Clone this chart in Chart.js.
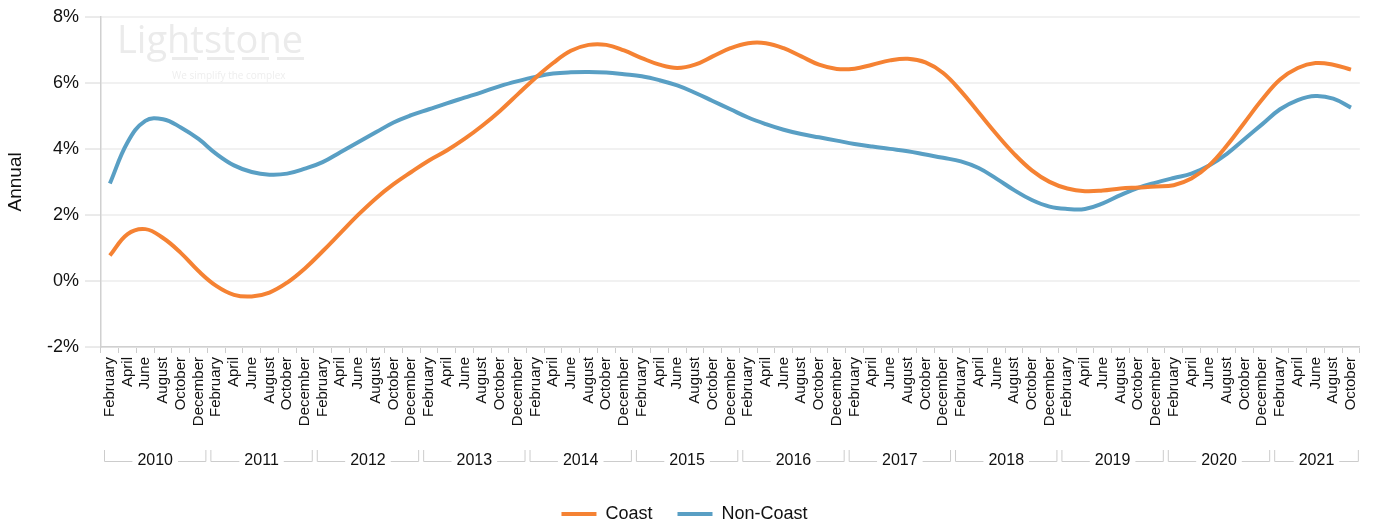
<!DOCTYPE html>
<html>
<head>
<meta charset="utf-8">
<script src="https://cdn.jsdelivr.net/npm/chart.js@4.4.0/dist/chart.umd.min.js"></script>
<style>
  html, body { margin: 0; padding: 0; background: #fff; }
  #wrap { width: 1373px; height: 526px; }
</style>
</head>
<body>
<div id="wrap"><canvas id="annualChart"></canvas></div>
<script>
// Years and the bi-monthly points shown in each
const years = ['2010', '2011', '2012', '2013', '2014', '2015', '2016', '2017', '2018', '2019', '2020', '2021'];
const months = ['February', 'April', 'June', 'August', 'October', 'December'];
const lastMonth = 'October'; // series stops at October 2021

// Annual growth (%)
const coast = [
    0.77, 1.42, 1.57, 1.30, 0.85, 0.30,
    -0.15, -0.42, -0.47, -0.35, -0.05, 0.38,
    0.90, 1.45, 2.00, 2.50, 2.93, 3.30,
    3.65, 3.95, 4.30, 4.70, 5.15, 5.65,
    6.15, 6.60, 6.97, 7.15, 7.15, 6.98,
    6.75, 6.55, 6.45, 6.55, 6.80, 7.05,
    7.20, 7.20, 7.05, 6.80, 6.55, 6.42,
    6.43, 6.55, 6.68, 6.73, 6.62, 6.30,
    5.75, 5.10, 4.45, 3.85, 3.35, 3.00,
    2.80, 2.72, 2.74, 2.80, 2.83, 2.86,
    2.90, 3.10, 3.50, 4.10, 4.80, 5.50,
    6.10, 6.45, 6.60, 6.55, 6.40
];
const nonCoast = [
    2.95, 4.20, 4.85, 4.90, 4.65, 4.30,
    3.85, 3.50, 3.30, 3.22, 3.25, 3.40,
    3.60, 3.90, 4.20, 4.50, 4.80, 5.02,
    5.20, 5.38, 5.55, 5.72, 5.90, 6.05,
    6.18, 6.28, 6.32, 6.33, 6.31, 6.26,
    6.20, 6.08, 5.92, 5.70, 5.45, 5.20,
    4.95, 4.75, 4.58, 4.45, 4.35, 4.25,
    4.15, 4.07, 4.00, 3.93, 3.83, 3.73,
    3.62, 3.42, 3.10, 2.75, 2.45, 2.25,
    2.18, 2.18, 2.35, 2.60, 2.82, 2.98,
    3.12, 3.25, 3.50, 3.85, 4.30, 4.75,
    5.20, 5.48, 5.60, 5.52, 5.25
];

// Build the category labels and the year each one belongs to
const labels = [];
const yearOf = [];
years.forEach((y, yi) => {
    for (const m of months) {
        labels.push(m);
        yearOf.push(y);
        if (yi === years.length - 1 && m === lastMonth) break;
    }
});

const FONT = '"Liberation Sans", Arial, sans-serif';

// Faint logo behind the lines
const watermark = {
    id: 'watermark',
    beforeDatasetsDraw(chart) {
        const ctx = chart.ctx;
        ctx.save();
        ctx.fillStyle = '#ebebeb';
        ctx.font = '38px "Open Sans", sans-serif';
        ctx.textBaseline = 'alphabetic';
        ctx.fillText('Lightstone', 117, 53);
        ctx.fillRect(172, 57, 26, 3);
        ctx.fillRect(207, 57, 27, 3);
        ctx.fillRect(242, 57, 27, 3);
        ctx.fillRect(277, 57, 27, 3);
        ctx.font = '10px "Open Sans", sans-serif';
        ctx.fillStyle = '#eeeeee';
        ctx.fillText('We simplify the complex', 172, 79);
        ctx.restore();
    }
};

// Second row of the x axis: one bracket per year
const yearAxis = {
    id: 'yearAxis',
    afterDraw(chart) {
        const x = chart.scales.x;
        const ctx = chart.ctx;
        const band = x.width / labels.length;
        const lineY = x.top + 114;
        const topY = lineY - 11;
        ctx.save();
        ctx.strokeStyle = '#cccccc';
        ctx.lineWidth = 1;
        ctx.font = '16px ' + FONT;
        ctx.fillStyle = '#111';
        ctx.textAlign = 'center';
        ctx.textBaseline = 'middle';
        years.forEach(yr => {
            const first = yearOf.indexOf(yr);
            const last = yearOf.lastIndexOf(yr);
            const l = x.getPixelForValue(first) - band / 2 + 3;
            const r = x.getPixelForValue(last) + band / 2 - 1;
            const c = (l + r) / 2;
            const half = ctx.measureText(yr).width / 2 + 5;
            ctx.beginPath();
            ctx.moveTo(l + 0.5, topY);
            ctx.lineTo(l + 0.5, lineY + 0.5);
            ctx.lineTo(c - half, lineY + 0.5);
            ctx.moveTo(c + half, lineY + 0.5);
            ctx.lineTo(r - 0.5, lineY + 0.5);
            ctx.lineTo(r - 0.5, topY);
            ctx.stroke();
            ctx.fillText(yr, c, lineY);
        });
        ctx.restore();
    }
};

const ctx = document.getElementById('annualChart').getContext('2d');
const annualChart = new Chart(ctx, {
    type: 'line',
    data: {
        labels: labels,
        datasets: [{
            label: 'Coast',
            data: coast,
            borderColor: '#f58233',
            backgroundColor: '#f58233',
            borderWidth: 4,
            pointRadius: 0,
            tension: 0.4
        }, {
            label: 'Non-Coast',
            data: nonCoast,
            borderColor: '#599fc4',
            backgroundColor: '#599fc4',
            borderWidth: 4,
            pointRadius: 0,
            tension: 0.4
        }]
    },
    options: {
        responsive: true,
        maintainAspectRatio: false,
        animation: false,
        layout: { padding: { top: 14, right: 4, left: 0, bottom: -7 } },
        scales: {
            x: {
                type: 'category',
                offset: true,
                grid: {
                    offset: true,
                    drawOnChartArea: false,
                    color: '#cccccc',
                    tickLength: 6
                },
                border: { color: '#d0d0d0', width: 1.5 },
                ticks: {
                    autoSkip: false,
                    minRotation: 90,
                    maxRotation: 90,
                    padding: 4,
                    color: '#111',
                    font: { family: FONT, size: 15 }
                },
                afterFit(scale) { scale.height = 133; }
            },
            y: {
                min: -2,
                max: 8,
                ticks: {
                    stepSize: 2,
                    padding: 6,
                    color: '#111',
                    font: { family: FONT, size: 18 },
                    callback: v => v + '%'
                },
                grid: {
                    color: '#f1f1f1',
                    lineWidth: 2,
                    tickColor: '#d6d6d6',
                    tickWidth: 1,
                    tickLength: 16
                },
                border: { color: '#d0d0d0', width: 1.5 },
                title: {
                    display: true,
                    text: 'Annual',
                    color: '#111',
                    font: { family: FONT, size: 19 },
                    padding: { top: 4, bottom: 0 }
                },
                afterFit(scale) { scale.width = 101; }
            }
        },
        plugins: {
            legend: {
                position: 'bottom',
                labels: {
                    boxWidth: 35,
                    boxHeight: 4,
                    padding: 25,
                    color: '#111',
                    font: { family: FONT, size: 18 },
                    generateLabels(chart) {
                        return Chart.defaults.plugins.legend.labels.generateLabels(chart)
                            .map(item => Object.assign(item, { lineWidth: 0 }));
                    }
                }
            },
            tooltip: { enabled: false }
        }
    },
    plugins: [watermark, yearAxis]
});
</script>
</body>
</html>
